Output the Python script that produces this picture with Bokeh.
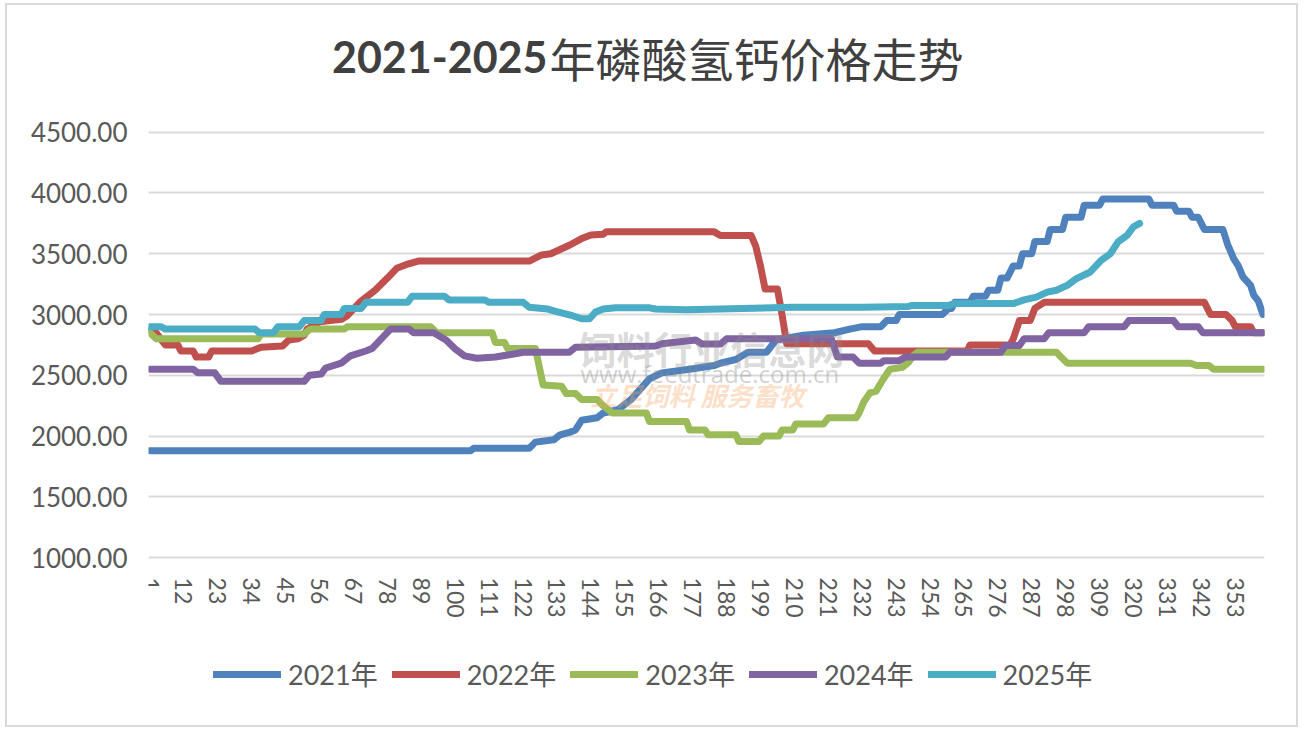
from bokeh.plotting import figure
from bokeh.models import Range1d, FixedTicker, NumeralTickFormatter, Legend, LegendItem, Label
from bokeh.embed import file_html
from bokeh.resources import INLINE

title_num = "2021-2025"
title_cn = "年磷酸氢钙价格走势"
series_names = ["2021年", "2022年", "2023年", "2024年", "2025年"]
colors = ["#4F81BD", "#C0504D", "#9BBB59", "#8064A2", "#4BACC6"]
x_ticks = [1, 12, 23, 34, 45, 56, 67, 78, 89, 100, 111, 122, 133, 144, 155, 166,
           177, 188, 199, 210, 221, 232, 243, 254, 265, 276, 287, 298, 309, 320,
           331, 342, 353]
y_ticks = [1000, 1500, 2000, 2500, 3000, 3500, 4000, 4500]

# (day, price) points
pts_2021 = [(1, 1880), (105, 1880), (106, 1900), (124, 1900), (126, 1950), (132, 1970),
            (134, 2010), (137, 2030), (139, 2050), (141, 2130), (146, 2150), (148, 2190),
            (150, 2200), (153, 2220), (157, 2300), (163, 2470), (167, 2520), (176, 2550),
            (184, 2580), (186, 2600), (191, 2630), (195, 2690), (201, 2690), (204, 2790),
            (213, 2830), (223, 2850), (228, 2880), (232, 2900), (238, 2900), (240, 2950),
            (243, 2950), (244, 3000), (258, 3000), (260, 3050), (261, 3050), (262, 3100),
            (267, 3100), (268, 3150), (272, 3150), (273, 3200), (276, 3200), (277, 3300),
            (279, 3300), (281, 3400), (283, 3400), (284, 3500), (287, 3500), (288, 3600),
            (292, 3600), (293, 3700), (297, 3700), (298, 3800), (303, 3800), (304, 3900),
            (309, 3900), (310, 3950), (325, 3950), (326, 3900), (333, 3900), (334, 3850),
            (338, 3850), (339, 3800), (341, 3800), (343, 3700), (349, 3700), (350.5, 3580),
            (352.5, 3460), (354, 3400), (355.5, 3310), (358, 3240), (359, 3160),
            (360.5, 3110), (362, 3000)]
pts_2022 = [(1, 2870), (3, 2850), (5, 2780), (6, 2750), (10, 2750), (11, 2700), (15, 2700),
            (16, 2650), (20, 2650), (21, 2700), (34, 2700), (37, 2730), (44, 2740), (46, 2790),
            (49, 2800), (51, 2830), (52, 2880), (56, 2940), (63, 2960), (65, 2990), (69, 3100),
            (74, 3200), (78, 3300), (81, 3380), (84, 3410), (88, 3440), (124, 3440),
            (128, 3490), (131, 3500), (137, 3570), (141, 3625), (144, 3655), (148, 3660),
            (149, 3680), (184, 3680), (186, 3650), (196, 3650), (197.5, 3560), (199, 3400),
            (200.5, 3210), (204.5, 3210), (206, 3000), (207.5, 2760), (234, 2760),
            (236, 2700), (266, 2700), (267, 2750), (280, 2750), (281, 2800), (283, 2950),
            (286.5, 2950), (288, 3050), (291, 3100), (343, 3100), (345, 3000), (350, 3000),
            (352, 2950), (353, 2900), (358, 2900), (359, 2850), (362, 2850)]
pts_2023 = [(1, 2850), (3, 2800), (36, 2800), (37, 2840), (51, 2840), (53, 2880), (64, 2880),
            (65, 2900), (92, 2900), (94, 2850), (112, 2850), (113, 2770), (116, 2770),
            (117, 2720), (126, 2720), (128.5, 2420), (134.5, 2410), (136, 2350), (139, 2350),
            (141, 2300), (146, 2300), (148, 2250), (151, 2190), (162, 2190), (163, 2120),
            (175, 2120), (176, 2050), (181, 2050), (182, 2010), (191, 2010), (192, 1955),
            (198.5, 1955), (200, 2000), (205, 2000), (206, 2050), (209.5, 2050),
            (210.5, 2100), (219.5, 2100), (221, 2150), (230, 2150), (231, 2190),
            (232.5, 2280), (234.5, 2355), (236.5, 2370), (238.8, 2467), (241, 2550),
            (245, 2565), (247, 2605), (248.5, 2660), (250, 2690), (295, 2690), (296.5, 2650),
            (298.5, 2600), (338.5, 2600), (340.5, 2580), (344.5, 2580), (346, 2550),
            (362, 2550)]
pts_2024 = [(1, 2550), (15, 2550), (16.5, 2520), (22, 2520), (24, 2450), (51, 2450),
            (52.7, 2500), (56.5, 2510), (58, 2560), (63, 2600), (66, 2660), (71, 2700),
            (73, 2720), (76, 2800), (79, 2880), (85, 2880), (86.5, 2850), (93, 2850),
            (97, 2790), (100, 2716), (103, 2660), (107, 2640), (113, 2650), (119, 2675),
            (122, 2690), (137, 2690), (139, 2730), (165, 2740), (167, 2760), (178, 2790),
            (180, 2757), (186, 2757), (188, 2800), (222, 2800), (224, 2650), (229, 2650),
            (231, 2600), (238, 2600), (239, 2620), (244, 2620), (246, 2650), (259, 2650),
            (260.5, 2690), (277, 2690), (278.5, 2745), (283, 2745), (284.5, 2800),
            (291, 2800), (292.5, 2850), (304, 2850), (305.5, 2900), (317, 2900),
            (318.5, 2950), (333, 2950), (334.5, 2900), (341, 2900), (342.5, 2850),
            (362, 2850)]
pts_2025 = [(1, 2900), (4.5, 2900), (6, 2880), (35, 2880), (36.5, 2850), (41, 2850),
            (42.5, 2900), (49.5, 2900), (51, 2950), (56.5, 2950), (57.5, 3000), (63, 3000),
            (64, 3050), (69.5, 3050), (71, 3100), (84.5, 3100), (86, 3150), (96.5, 3150),
            (98, 3120), (109.5, 3120), (111, 3100), (122, 3100), (124, 3060), (130, 3045),
            (133.5, 3020), (138, 2990), (141, 2965), (143.5, 2965), (145.5, 3020),
            (148, 3045), (152, 3055), (163, 3055), (165, 3045), (175, 3040), (193, 3050),
            (209.5, 3060), (232, 3060), (247, 3065), (248, 3075), (260, 3075), (262, 3090),
            (281, 3090), (284.5, 3120), (288.5, 3143), (292, 3184), (295, 3200),
            (298.5, 3240), (301.5, 3295), (306, 3350), (309.5, 3446), (312.5, 3500),
            (315, 3598), (318, 3653), (320, 3722), (322, 3750)]

all_series = [pts_2021, pts_2022, pts_2023, pts_2024, pts_2025]

# layout (pixels): the 1000..4500 band is 423 px tall and starts 126 px below the
# canvas top; the frame spans the whole canvas height so the title, the day labels
# and the legend can sit inside it.
TOP_PX, BOTTOM_PAD, BAND = 126, 10, 423
CANVAS_H = 720
below_px = CANVAS_H - BOTTOM_PAD - TOP_PX - BAND
units_per_px = 3500 / BAND
y_start = 1000 - below_px * units_per_px
y_end = 4500 + TOP_PX * units_per_px
frame_h = CANVAS_H - BOTTOM_PAD

p = figure(width=1293, height=724, output_backend="svg", toolbar_location=None,
           x_range=Range1d(0.5, 362.5), y_range=Range1d(y_start, y_end),
           min_border_left=141, min_border_right=36, min_border_top=0,
           min_border_bottom=BOTTOM_PAD)
p.styles = {"border": "2px solid #d9d9d9", "box-sizing": "border-box",
            "margin-left": "5px", "margin-top": "3px"}
p.outline_line_color = None
p.background_fill_color = "white"
p.border_fill_color = "white"

label_font = "Lato, Noto Sans CJK SC"

p.yaxis.ticker = FixedTicker(ticks=y_ticks)
p.yaxis.formatter = NumeralTickFormatter(format="0.00")
p.xaxis.ticker = FixedTicker(ticks=x_ticks)
p.xaxis.fixed_location = 1000
for ax in (p.xaxis, p.yaxis):
    ax.axis_line_color = None
    ax.major_tick_line_color = None
    ax.minor_tick_line_color = None
    ax.major_label_text_font = label_font
    ax.major_label_text_color = "#595959"
p.yaxis.major_label_standoff = 15
p.xaxis.major_label_standoff = 14
p.yaxis.major_label_text_font_size = "26px"
p.xaxis.major_label_text_font_size = "23px"
p.xaxis.major_label_orientation = "vertical"
p.xgrid.grid_line_color = None
p.ygrid.grid_line_color = "#D9D9D9"
p.ygrid.grid_line_width = 2
p.ygrid.ticker = FixedTicker(ticks=y_ticks)

items = []
for name, col, pts in zip(series_names, colors, all_series):
    xs = [a for a, b in pts]
    ys = [b for a, b in pts]
    r = p.line(xs, ys, line_color=col, line_width=7, line_cap="round", line_join="round")
    items.append(LegendItem(label=name, renderers=[r]))

legend = Legend(items=items, orientation="horizontal", location=(65, 26),
                glyph_width=68, glyph_height=26, label_standoff=7, spacing=14,
                padding=0, margin=0, border_line_color=None, background_fill_alpha=0,
                label_text_font=label_font, label_text_font_size="27px",
                label_text_color="#595959")
p.add_layout(legend, "center")

# title: bold digits + regular Chinese
title_y = frame_h - 47
p.add_layout(Label(x=399, y=title_y, x_units="screen", y_units="screen", text=title_num,
                   text_align="right", text_baseline="alphabetic",
                   text_font="Lato", text_font_size="43px", text_font_style="bold",
                   text_color="#404040"))
p.add_layout(Label(x=401, y=title_y, x_units="screen", y_units="screen", text=title_cn,
                   text_align="left", text_baseline="alphabetic",
                   text_font="Noto Sans CJK SC", text_font_size="46px",
                   text_font_style="normal", text_color="#404040"))

# watermark
p.add_layout(Label(x=430, y=184 + below_px, x_units="screen", y_units="screen", text="饲料行业信息网",
                   text_font="Noto Sans CJK SC", text_font_size="38px", text_font_style="bold",
                   text_color="#8c8c8c", text_alpha=0.33))
p.add_layout(Label(x=432, y=169 + below_px, x_units="screen", y_units="screen", text="www.feedtrade.com.cn",
                   text_font="Open Sans", text_font_size="24px",
                   text_color="#8c8c8c", text_alpha=0.4))
p.add_layout(Label(x=442, y=146 + below_px, x_units="screen", y_units="screen", text="立足饲料    服务畜牧",
                   text_font="Noto Sans CJK SC", text_font_size="26px", text_font_style="bold italic",
                   text_color="#F4A460", text_alpha=0.35))

open("out.html", "w").write(file_html(p, INLINE))
